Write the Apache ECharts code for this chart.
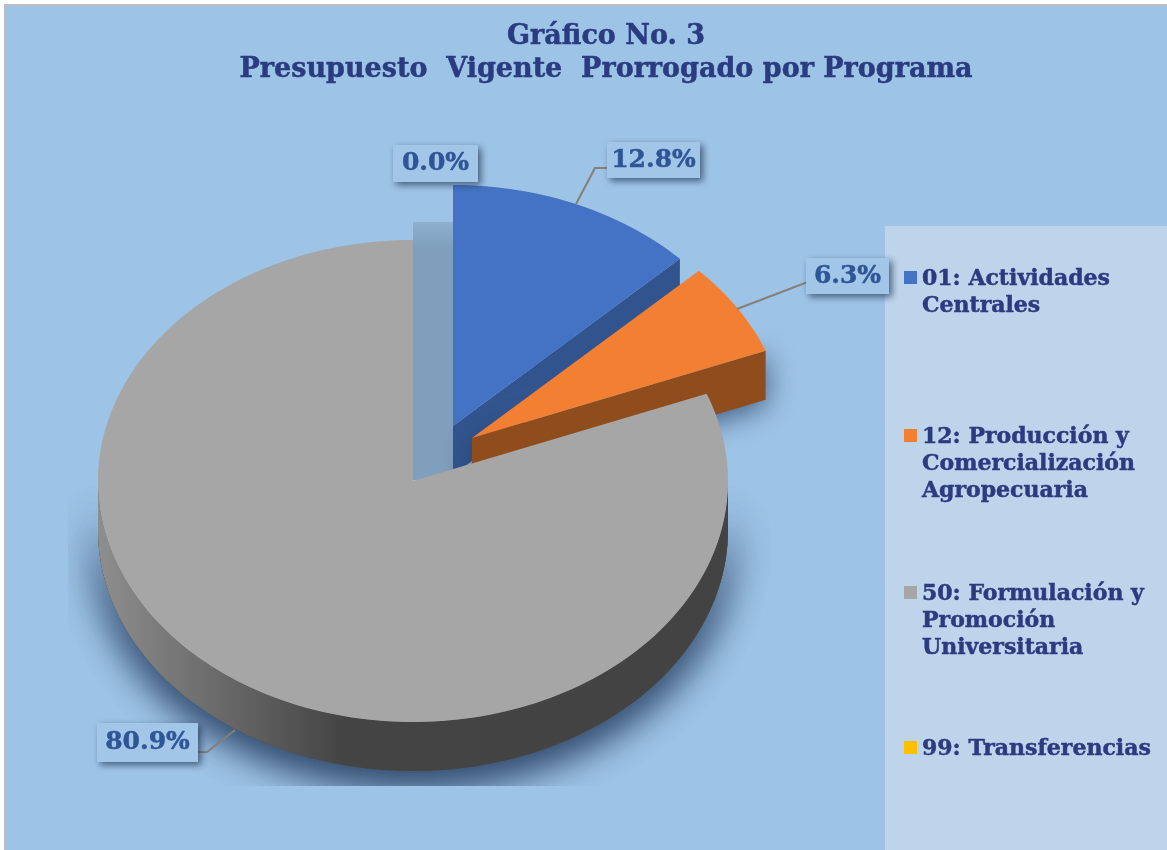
<!DOCTYPE html>
<html>
<head>
<meta charset="utf-8">
<title>Gráfico No. 3</title>
<style>
	html, body { margin: 0; padding: 0; background: #fff; }
	#chart { width: 1167px; height: 850px; }
</style>
<script src="https://cdn.jsdelivr.net/npm/echarts@6/dist/echarts.min.js"></script>
</head>
<body>
<div id="chart"></div>
<script>
// chart values
var programs = ['01: Actividades\nCentrales', '12: Producción y\nComercialización\nAgropecuaria', '50: Formulación y\nPromoción\nUniversitaria', '99: Transferencias'];
var shares = [12.8, 6.3, 80.9, 0.0];
var titleLines = ['Gráfico No. 3', 'Presupuesto  Vigente  Prorrogado por Programa'];

// colours and layout, one entry per program
var topColors = ['#4472c4', '#f38032', '#a6a6a6', '#ffc000'];
var wallColors = ['#31548f', '#8f4c1c', '#444444', '#ffc000'];
var centers = [[453, 426], [472, 438], [413, 481], [453, 426]];
var labelBoxes = [[607, 142, 93, 36], [806, 258, 83, 36], [97, 723, 101, 39], [393, 145, 85, 37]]; // x, y, w, h
var leaders = [
	[[576, 204], [595, 168], [610, 168]],
	[[737, 309], [805, 283], [815, 283]],
	[[235, 730], [207, 752], [190, 752]],
	null
];
var legendY = [266, 424, 581, 736];

var RX = 315, RY = 241, DEPTH = 49;
var NAVY = '#2a3b80', LABEL_BLUE = '#2f5597';
var FONT = '"DejaVu Serif", serif';

function ellipsePoint(c, deg, dy) {
	var a = deg * Math.PI / 180;
	return [c[0] + RX * Math.sin(a), c[1] - RY * Math.cos(a) + (dy || 0)];
}

function arcPoints(c, from, to, dy) {
	var pts = [];
	var n = Math.max(2, Math.ceil(Math.abs(to - from) / 1.5));
	for (var i = 0; i <= n; i++)
		pts.push(ellipsePoint(c, from + (to - from) * i / n, dy));
	return pts;
}

// cumulative start / end angle of a slice, clockwise from 12 o'clock
function sliceAngles(idx) {
	var total = 0, before = 0;
	for (var i = 0; i < shares.length; i++) {
		if (i < idx) before += shares[i];
		total += shares[i];
	}
	return [before / total * 360, (before + shares[idx]) / total * 360];
}

function polygon(points, fill, z2, extra) {
	var style = { fill: fill };
	for (var k in extra) style[k] = extra[k];
	return { type: 'polygon', shape: { points: points }, style: style, z2: z2, silent: true };
}

function renderSlice(params, api) {
	var idx = params.dataIndex;
	var ang = sliceAngles(idx);
	var c = centers[idx];
	var children = [];
	if (shares[idx] > 0) {
		var top = [c].concat(arcPoints(c, ang[0], ang[1]));
		var z = 10 + idx * 10;
		if (idx === 2) {
			// outer rim facing the viewer, it casts the big shadow (drawn twice to get it dense enough)
			var rim = arcPoints(c, 90, 270).concat(arcPoints(c, 270, 90, DEPTH));
			var cast = { shadowBlur: 40, shadowColor: 'rgba(40,65,100,0.85)', shadowOffsetX: 0, shadowOffsetY: 10 };
			children.push({
				type: 'group',
				clipPath: { type: 'rect', shape: { x: 68, y: 300, width: 760, height: 486 } },
				children: [polygon(rim, '#555', 1, cast), polygon(rim, '#555', 2, cast)]
			});
			children.push(polygon(rim, {
				type: 'linear', x: 0, y: 0, x2: 1, y2: 0,
				colorStops: [{ offset: 0, color: '#8e8e8e' }, { offset: 0.2, color: '#686868' },
					{ offset: 0.39, color: '#444444' }, { offset: 1, color: '#434343' }]
			}, z));
		} else {
			// cut face of the exploded slice
			var tip = ellipsePoint(c, ang[1]);
			var wall = [c, tip, [tip[0], tip[1] + DEPTH], [c[0], c[1] + DEPTH]];
			var wallCast = idx === 1 ? { shadowBlur: 30, shadowColor: 'rgba(40,65,100,0.85)', shadowOffsetY: 5 } : {};
			children.push(polygon(wall, wallColors[idx], z, wallCast));
		}
		children.push(polygon(top, topColors[idx], z + 1));
	}
	return { type: 'group', children: children };
}

function renderLabel(params, api) {
	var idx = params.dataIndex;
	var box = labelBoxes[idx];
	var children = [];
	if (leaders[idx])
		children.push({
			type: 'polyline', shape: { points: leaders[idx] }, z2: 60, silent: true,
			style: { stroke: '#857f7a', lineWidth: 2, fill: null }
		});
	children.push({
		type: 'rect', z2: 65, silent: true,
		shape: { x: box[0], y: box[1], width: box[2], height: box[3] },
		style: {
			fill: '#a2c6e8', shadowBlur: 7, shadowColor: 'rgba(30,50,80,0.7)',
			shadowOffsetX: 3, shadowOffsetY: 3
		}
	});
	children.push({
		type: 'text', x: box[0] + box[2] / 2, y: box[1] + box[3] / 2, z2: 70, silent: true,
		style: {
			text: shares[idx].toFixed(1) + '%',
			font: 'bold 25px ' + FONT,
			fill: LABEL_BLUE, stroke: LABEL_BLUE, lineWidth: 0.5,
			align: 'center', verticalAlign: 'middle'
		}
	});
	return { type: 'group', children: children };
}

function legendGraphics() {
	var items = [];
	for (var i = 0; i < programs.length; i++) {
		items.push({
			type: 'rect', shape: { x: 904, y: legendY[i] + 5, width: 13, height: 13 },
			style: { fill: topColors[i] }, z: 5
		});
		items.push({
			type: 'text', x: 922, y: legendY[i], z: 5,
			style: { text: programs[i], font: 'bold 22px ' + FONT, fill: NAVY, stroke: NAVY, lineWidth: 0.5, lineHeight: 27 }
		});
	}
	return items;
}

var chart = echarts.init(document.getElementById('chart'));
var sliceIdx = programs.map(function (p, i) { return i; });

chart.setOption({
	animation: false,
	backgroundColor: '#ffffff',
	title: {
		text: titleLines.join('\n'),
		left: 606, top: 20, textAlign: 'center', padding: 0,
		textStyle: {
			color: NAVY, fontFamily: FONT, fontWeight: 'bold', fontSize: 27, lineHeight: 33,
			textBorderColor: NAVY, textBorderWidth: 0.5
		}
	},
	graphic: [
		{ type: 'rect', shape: { x: 4, y: 4, width: 1163, height: 846 }, style: { fill: '#bdbdbd' }, z: -11 },
		{ type: 'rect', shape: { x: 6, y: 6, width: 1161, height: 844 }, style: { fill: '#9dc3e6' }, z: -10 },
		{ type: 'rect', shape: { x: 885, y: 226, width: 282, height: 624 }, style: { fill: '#bdd4ea' }, z: -9 },
		// shadow in the gap between the gray slice and the blue one
		{ type: 'rect', shape: { x: centers[2][0], y: 222, width: centers[0][0] - centers[2][0], height: 258 },
			style: {
				fill: {
					type: 'linear', x: 0, y: 0, x2: 0, y2: 1,
					colorStops: [{ offset: 0, color: '#8fafd0' }, { offset: 0.1, color: '#7f9fbd' }, { offset: 1, color: '#7f9fbd' }]
				}
			}, z: -8 }
	].concat(legendGraphics()),
	series: [
		{ type: 'custom', coordinateSystem: 'none', renderItem: renderSlice, data: sliceIdx, silent: true, z: 2, clip: false },
		{ type: 'custom', coordinateSystem: 'none', renderItem: renderLabel, data: sliceIdx, silent: true, z: 3, clip: false }
	]
});
</script>
</body>
</html>
